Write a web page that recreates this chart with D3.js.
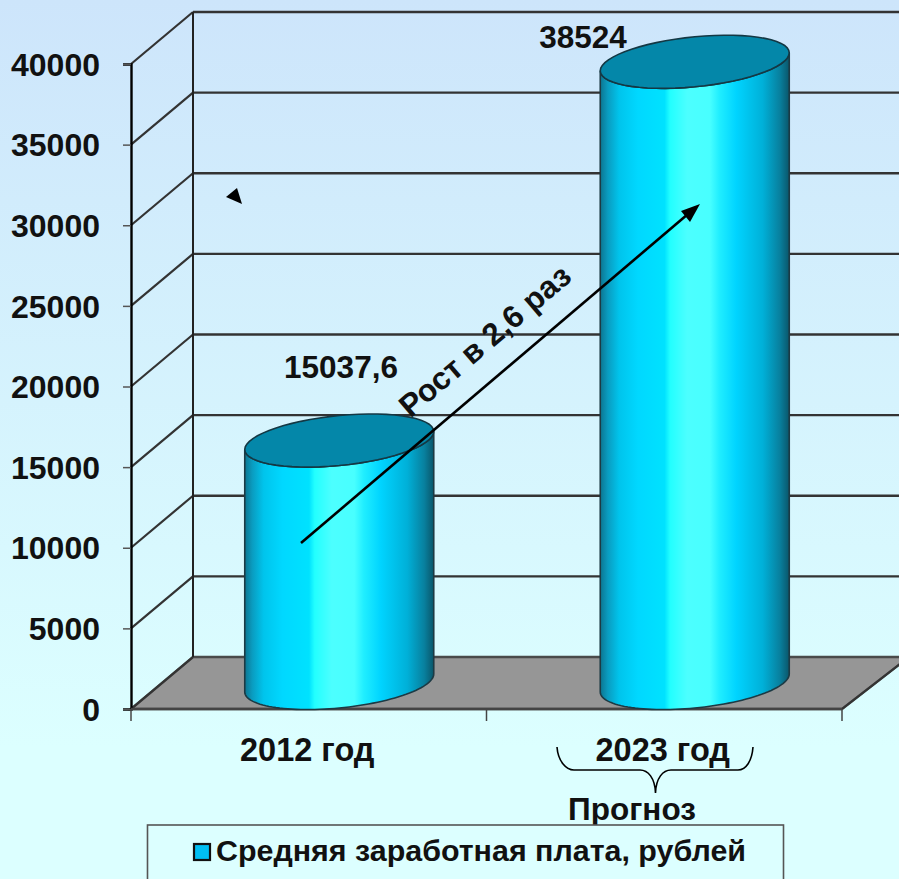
<!DOCTYPE html>
<html lang="ru">
<head>
    <meta charset="UTF-8">
    <title>Средняя заработная плата</title>
    <script src="https://cdnjs.cloudflare.com/ajax/libs/d3/7.8.5/d3.min.js"></script>
    <style>
        html, body { margin: 0; padding: 0; overflow: hidden; }
        svg { display: block; }
        text { font-family: "Liberation Sans", Arial, sans-serif; font-weight: bold; fill: #111; }
    </style>
</head>
<body>
    <script>
        // Chart data
        var categories = ["2012 год", "2023 год"];
        var salaries = [15037.6, 38524];
        var salaryLabels = ["15037,6", "38524"];
        var yTicks = [0, 5000, 10000, 15000, 20000, 25000, 30000, 35000, 40000];
        var seriesName = "Средняя заработная плата, рублей";

        var width = 899, height = 879;
        var svg = d3.select("body").append("svg").attr("width", width).attr("height", height);
        var defs = svg.append("defs");

        // Background gradient
        var bg = defs.append("linearGradient").attr("id", "bg").attr("x1", 0).attr("y1", 0).attr("x2", 0).attr("y2", 1);
        bg.append("stop").attr("offset", "0%").attr("stop-color", "#cde5fb");
        bg.append("stop").attr("offset", "85%").attr("stop-color", "#dcffff");
        bg.append("stop").attr("offset", "100%").attr("stop-color", "#dcffff");
        svg.append("rect").attr("width", width).attr("height", height).attr("fill", "url(#bg)");

        // Cylinder side gradient
        var side = defs.append("linearGradient").attr("id", "side");
        [[0, "#0c7590"], [0.04, "#0a9cc0"], [0.1, "#00c4ec"], [0.2, "#00d8ff"], [0.34, "#00e2ff"],
         [0.37, "#22ffff"], [0.46, "#4cffff"], [0.58, "#48ffff"], [0.63, "#20eeff"], [0.72, "#00d4ff"], [0.86, "#00b0d8"],
         [0.95, "#08809e"], [1, "#0a566a"]].forEach(function (s) {
            side.append("stop").attr("offset", s[0]).attr("stop-color", s[1]);
        });

        // Scales, front plane of the 3d box
        var plotLeft = 131, plotRight = 842, plotBottom = 709, plotTop = 64;
        var dx = 62, dy = 52;
        var y = d3.scaleLinear().domain([0, 40000]).range([plotBottom, plotTop]);
        var x = d3.scaleBand().domain(categories).range([plotLeft, plotRight]);

        var lineColor = "#333";

        // Floor
        svg.append("polygon")
            .attr("points", [[plotLeft, plotBottom], [plotLeft + dx, plotBottom - dy], [width + 10, plotBottom - dy], [plotRight, plotBottom]].join(" "))
            .attr("fill", "#969696").attr("stroke", "#4a4a4a").attr("stroke-width", 2.4);

        // Grid on back wall and side wall
        var grid = svg.append("g");
        grid.selectAll("line.back").data(yTicks.filter(function (d) { return d > 0; })).enter().append("line")
            .attr("class", "back")
            .attr("x1", plotLeft + dx).attr("x2", width)
            .attr("y1", function (d) { return y(d) - dy; }).attr("y2", function (d) { return y(d) - dy; })
            .attr("stroke", lineColor).attr("stroke-width", 2.4);
        grid.selectAll("line.diag").data(yTicks).enter().append("line")
            .attr("class", "diag")
            .attr("x1", plotLeft).attr("x2", plotLeft + dx)
            .attr("y1", function (d) { return y(d); }).attr("y2", function (d) { return y(d) - dy; })
            .attr("stroke", lineColor).attr("stroke-width", 2.2);
        grid.append("line").attr("x1", plotLeft + dx).attr("x2", plotLeft + dx)
            .attr("y1", y(40000) - dy).attr("y2", plotBottom - dy)
            .attr("stroke", "#222").attr("stroke-width", 2);
        grid.append("line").attr("x1", plotRight).attr("x2", width + 10)
            .attr("y1", plotBottom).attr("y2", plotBottom - dy)
            .attr("stroke", "#333").attr("stroke-width", 2);

        // Y axis
        var yAxis = svg.append("g").attr("transform", "translate(" + plotLeft + ",0)")
            .call(d3.axisLeft(y).tickValues(yTicks).tickFormat(d3.format("d")).tickSize(8));
        yAxis.select(".domain").attr("stroke", "#000").attr("stroke-width", 2.4);
        yAxis.selectAll(".tick line").attr("stroke", "#555").attr("stroke-width", 1.5);
        yAxis.selectAll("text").style("font-size", "32px").style("font-family", '"Liberation Sans", Arial, sans-serif')
            .style("font-weight", "bold").attr("fill", "#111").attr("x", -31).attr("dy", "0.35em");

        // X axis, ticks on band edges
        svg.append("line").attr("x1", plotLeft).attr("x2", plotRight).attr("y1", plotBottom).attr("y2", plotBottom)
            .attr("stroke", "#444").attr("stroke-width", 2.4);
        svg.selectAll("line.xtick").data([x(categories[0]), x(categories[1]), plotRight]).enter().append("line")
            .attr("class", "xtick")
            .attr("x1", function (d) { return d; }).attr("x2", function (d) { return d; })
            .attr("y1", plotBottom).attr("y2", plotBottom + 12)
            .attr("stroke", "#444").attr("stroke-width", 1.5);
        svg.selectAll("text.xlabel").data(categories).enter().append("text")
            .attr("class", "xlabel")
            .attr("x", function (d) { return x(d) + x.bandwidth() / 2 - 1.5; })
            .attr("y", 761).attr("text-anchor", "middle").style("font-size", "32.5px")
            .text(function (d) { return d; });

        // Cylinders: the ellipse is sheared so its right side sits higher
        var rx = 94.5, ry = 25, shear = 9;
        function ellipsePts(cx, cy, t0, t1) {
            return d3.range(0, 61).map(function (i) {
                var t = t0 + (t1 - t0) * i / 60;
                return [cx + rx * Math.cos(t), cy - shear * Math.cos(t) + ry * Math.sin(t)];
            });
        }
        var pathLine = d3.line();
        var bars = svg.selectAll("g.bar").data(categories).enter().append("g").attr("class", "bar");
        bars.each(function (c, i) {
            var g = d3.select(this);
            var cx = x(c) + x.bandwidth() / 2 + dx / 2 - 0.5;
            var baseY = y(0) - 26, topY = y(salaries[i]) - 26;
            var body = ellipsePts(cx, baseY, 0, Math.PI)
                .concat(ellipsePts(cx, topY, Math.PI, 0));
            g.append("path").attr("d", pathLine(body) + "Z")
                .attr("fill", "url(#side)").attr("stroke", "#1c3a44").attr("stroke-width", 1.6);
            g.append("path").attr("d", pathLine(ellipsePts(cx, topY, 0, 2 * Math.PI)) + "Z")
                .attr("fill", "#0487a9").attr("stroke", "#143844").attr("stroke-width", 1.6);
        });

        // Value labels
        var labelPos = [[341, 378], [583, 48]];
        svg.selectAll("text.value").data(salaryLabels).enter().append("text")
            .attr("class", "value")
            .attr("x", function (d, i) { return labelPos[i][0]; })
            .attr("y", function (d, i) { return labelPos[i][1]; })
            .attr("text-anchor", "middle").style("font-size", "31.5px")
            .text(function (d) { return d; });

        // Growth arrow
        svg.append("line").attr("x1", 301).attr("y1", 543).attr("x2", 688).attr("y2", 214)
            .attr("stroke", "#000").attr("stroke-width", 2.6);
        svg.append("polygon").attr("points", "700,204 681,211 690,222").attr("fill", "#000");
        svg.append("text").attr("transform", "translate(486,342) rotate(-40.5)")
            .attr("text-anchor", "middle").attr("y", 9).style("font-size", "31.5px").text("Рост в 2,6 раз");

        // Small stray marker
        svg.append("polygon").attr("points", "226,197 237,188 242,204").attr("fill", "#000");

        // Brace under the 2023 label
        svg.append("path")
            .attr("d", "M557,747 C558,761 566,770 574,770 L640,770 C648,770 655,778 655.5,793 C656,778 663,770 671,770 L738,770 C746,770 752,761 753,747")
            .attr("fill", "none").attr("stroke", "#000").attr("stroke-width", 1.6);
        svg.append("text").attr("x", 632).attr("y", 820).attr("text-anchor", "middle")
            .style("font-size", "31.5px").text("Прогноз");

        // Legend
        svg.append("rect").attr("x", 147.5).attr("y", 825).attr("width", 636).attr("height", 70)
            .attr("fill", "#dcffff").attr("stroke", "#555").attr("stroke-width", 1.6);
        svg.append("rect").attr("x", 194).attr("y", 844).attr("width", 16).attr("height", 16)
            .attr("fill", "#00bff3").attr("stroke", "#111").attr("stroke-width", 2.2);
        svg.append("text").attr("x", 216).attr("y", 861).style("font-size", "29px")
            .attr("textLength", 530).attr("lengthAdjust", "spacingAndGlyphs").text(seriesName);
    </script>
</body>
</html>
